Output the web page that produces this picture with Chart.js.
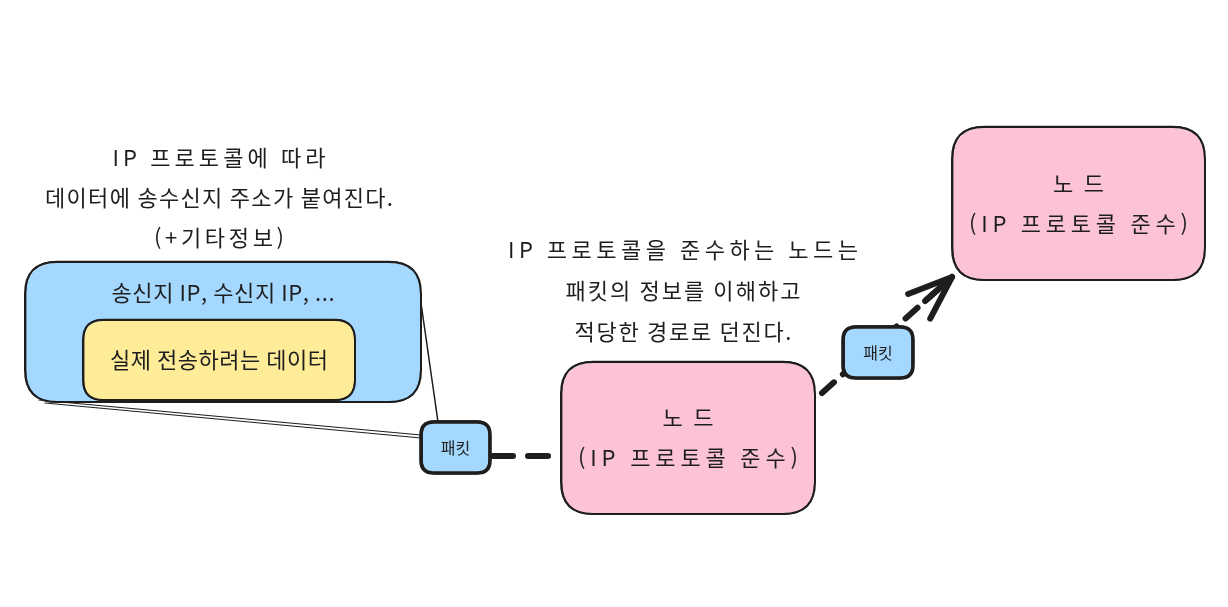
<!DOCTYPE html>
<html lang="ko">
<head>
<meta charset="utf-8">
<title>IP 패킷 전달</title>
<script src="https://cdn.jsdelivr.net/npm/chart.js@4/dist/chart.umd.min.js"></script>
<style>
  html, body { margin: 0; padding: 0; background: #ffffff; }
  #wrap { width: 1228px; height: 607px; }
</style>
</head>
<body>
<div id="wrap"><canvas id="diagram"></canvas></div>
<script>
// board units: the axes run 0..1228 and 0..607, so one unit is one pixel
const boxNames  = ['frame', 'payload', 'packetA', 'nodeA', 'packetB', 'nodeB'];
const boxLeft   = [25, 83, 421, 561, 843, 952];
const boxTop    = [262, 320, 422, 362, 327, 127];
const boxRight  = [421, 355, 490, 815, 913, 1205];
const boxBottom = [402, 400, 473, 514, 378, 280];

const boxLabels = [
  ['송신지 IP, 수신지 IP, ...'],
  ['실제 전송하려는 데이터'],
  ['패킷'],
  ['노드', '(IP 프로토콜 준수)'],
  ['패킷'],
  ['노드', '(IP 프로토콜 준수)']
];
const noteLeft   = ['IP 프로토콜에 따라', '데이터에 송수신지 주소가 붙여진다.', '(+기타정보)'];
const noteMiddle = ['IP 프로토콜을 준수하는 노드는', '패킷의 정보를 이해하고', '적당한 경로로 던진다.'];

// styles
const ink = '#1e1e1e';
const boxFill   = ['#a5d8ff', '#ffec99', '#a5d8ff', '#fcc2d7', '#a5d8ff', '#fcc2d7'];
const boxStroke = [2, 2, 3.6, 2, 3.6, 2];
const labelSize = [22, 22, 16, 22, 16, 22];
const labelFit  = [[223], [218], [0], [51, 220], [0], [51, 219]];
const notes = [
  { lines: noteLeft,   cx: 219, cy: 158, step: 40, fit: [213, 348, 130] },
  { lines: noteMiddle, cx: 683, cy: 250, step: 41, fit: [350, 235, 217] }
];

const box = name => {
  const i = boxNames.indexOf(name);
  return { l: boxLeft[i], t: boxTop[i], r: boxRight[i], b: boxBottom[i] };
};
const fr = box('frame'), pa = box('packetA'), na = box('nodeA'), nb = box('nodeB');

const line = (pts, width, dash) => ({
  data: pts,
  showLine: true,
  pointRadius: 0,
  borderColor: ink,
  borderWidth: width,
  borderDash: dash || [],
  borderCapStyle: 'round',
  tension: 0
});

const arrowFrom = { x: na.r + 7, y: na.t + 31 };
const arrowTo = { x: nb.l, y: nb.b - 3 };

const datasets = [
  line([{ x: fr.r - 3, y: fr.t + 20 }, { x: pa.l + 17, y: pa.t }], 1.5),
  line([{ x: fr.l + 14, y: fr.b - 2 }, { x: pa.l, y: pa.t + 13 }], 1.2),
  line([{ x: fr.l + 20, y: fr.b + 1 }, { x: pa.l, y: pa.t + 16 }], 1.2),
  line([{ x: pa.r + 3, y: pa.t + 34 }, { x: na.l + 10, y: pa.t + 34 }], 6, [20, 15]),
  line([arrowFrom, arrowTo], 6, [16, 12])
];

function roundPath(ctx, x, y, w, h, r) {
  ctx.beginPath();
  ctx.moveTo(x + r, y);
  ctx.lineTo(x + w - r, y);
  ctx.quadraticCurveTo(x + w, y, x + w, y + r);
  ctx.lineTo(x + w, y + h - r);
  ctx.quadraticCurveTo(x + w, y + h, x + w - r, y + h);
  ctx.lineTo(x + r, y + h);
  ctx.quadraticCurveTo(x, y + h, x, y + h - r);
  ctx.lineTo(x, y + r);
  ctx.quadraticCurveTo(x, y, x + r, y);
  ctx.closePath();
}

function fitText(ctx, text, cx, cy, width, size) {
  ctx.font = size + 'px "Noto Sans CJK KR", "Noto Sans", sans-serif';
  ctx.letterSpacing = '0px';
  const natural = ctx.measureText(text).width;
  const n = [...text].length;
  let sp = width && n > 1 ? (width - natural) / (n - 1) : 0;
  sp = Math.max(-1, Math.min(12, sp));
  ctx.letterSpacing = sp + 'px';
  ctx.textAlign = 'left';
  ctx.textBaseline = 'middle';
  ctx.fillStyle = ink;
  ctx.fillText(text, cx - (natural + sp * (n - 1)) / 2, cy);
}

const sketchPlugin = {
  id: 'sketch',
  afterDatasetsDraw(chart) {
    const { ctx, scales: { x, y } } = chart;
    ctx.save();

    // boxes
    boxNames.forEach((name, i) => {
      const l = x.getPixelForValue(boxLeft[i]), r = x.getPixelForValue(boxRight[i]);
      const t = y.getPixelForValue(boxTop[i]), b = y.getPixelForValue(boxBottom[i]);
      const w = r - l, h = b - t;
      const rad = Math.min(32, Math.min(w, h) * 0.25);
      ctx.fillStyle = boxFill[i];
      roundPath(ctx, l + 1, t + 1, w - 1, h - 1, rad);
      ctx.fill();
      ctx.strokeStyle = ink;
      ctx.lineJoin = 'round';
      ctx.lineWidth = boxStroke[i];
      roundPath(ctx, l, t, w, h, rad);
      ctx.stroke();
      ctx.lineWidth = boxStroke[i] * 0.6;
      roundPath(ctx, l + 0.8, t - 0.6, w - 1.2, h + 0.9, rad);
      ctx.stroke();
    });

    // arrow head + last solid stretch of shaft
    const tx = x.getPixelForValue(arrowTo.x), ty = y.getPixelForValue(arrowTo.y);
    const fx = x.getPixelForValue(arrowFrom.x), fy = y.getPixelForValue(arrowFrom.y);
    const ang = Math.atan2(fy - ty, fx - tx);
    ctx.strokeStyle = ink;
    ctx.lineWidth = 6;
    ctx.lineCap = 'round';
    ctx.beginPath();
    ctx.moveTo(tx + Math.cos(ang) * 36, ty + Math.sin(ang) * 36);
    ctx.lineTo(tx, ty);
    [0.36, -0.36].forEach(d => {
      ctx.moveTo(tx, ty);
      ctx.lineTo(tx + Math.cos(ang + d) * 47, ty + Math.sin(ang + d) * 47);
    });
    ctx.stroke();

    // box labels
    boxNames.forEach((name, i) => {
      const lines = boxLabels[i];
      const cx = x.getPixelForValue((boxLeft[i] + boxRight[i]) / 2);
      let cy = y.getPixelForValue((boxTop[i] + boxBottom[i]) / 2);
      const step = 40;
      if (name === 'frame') cy = y.getPixelForValue(boxTop[i] + 31);
      lines.forEach((txt, k) => {
        fitText(ctx, txt, cx, cy + (k - (lines.length - 1) / 2) * step, labelFit[i][k], labelSize[i]);
      });
    });

    // free notes
    notes.forEach(nt => {
      nt.lines.forEach((txt, k) => {
        fitText(ctx, txt, x.getPixelForValue(nt.cx), y.getPixelForValue(nt.cy + k * nt.step), nt.fit[k], 22);
      });
    });

    ctx.restore();
  }
};

new Chart(document.getElementById('diagram'), {
  type: 'scatter',
  data: { datasets },
  options: {
    responsive: true,
    maintainAspectRatio: false,
    animation: false,
    events: [],
    layout: { padding: 0 },
    scales: {
      x: { type: 'linear', min: 0, max: 1228, display: false },
      y: { type: 'linear', min: 0, max: 607, reverse: true, display: false }
    },
    plugins: { legend: { display: false }, tooltip: { enabled: false } }
  },
  plugins: [sketchPlugin]
});
</script>
</body>
</html>
